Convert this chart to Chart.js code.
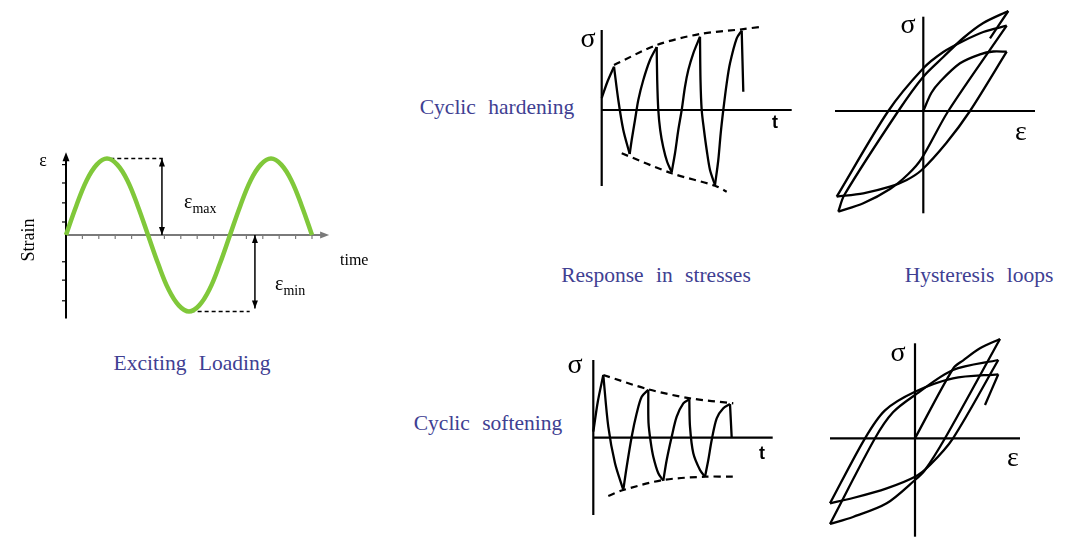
<!DOCTYPE html>
<html><head><meta charset="utf-8">
<script src="https://cdn.jsdelivr.net/npm/chart.js@4.4.1/dist/chart.umd.min.js"></script>
<style>
html,body{margin:0;padding:0;background:#fff;}
body{width:1080px;height:541px;position:relative;overflow:hidden;font-family:"Liberation Serif","Times New Roman",serif;}
.pn{position:absolute;}
.t{position:absolute;white-space:pre;line-height:1;color:#000;}
.lbl{color:rgb(64,64,146);font-size:21.5px;word-spacing:7px;transform:translate(-50%,-50%);}
.c{transform:translate(-50%,-50%);}
</style></head><body>
<script>
// ---------- DATA ----------
// Exciting loading: time in cycles, strain in amplitude units
const loadTime   = [0,0.0625,0.125,0.1875,0.25,0.3125,0.375,0.4375,0.5,0.5625,0.625,0.6875,0.75,0.8125,0.875,0.9375,1,1.0625,1.125,1.1875,1.25,1.3125,1.375,1.4375,1.5];
const loadStrain = [0,0.38,0.71,0.92,1,0.92,0.71,0.38,0,-0.38,-0.71,-0.92,-1,-0.92,-0.71,-0.38,0,0.38,0.71,0.92,1,0.92,0.71,0.38,0];
const loadTimeTicks   = [0.1,0.2,0.3,0.4,0.5,0.6,0.7,0.8,0.9,1.0,1.1,1.2,1.3,1.4,1.5];
const loadStrainTicks = [0.92,0.68,0.42,0.17,-0.35,-0.59,-0.86];
const maxGuide = [[0.27,1.0],[0.59,1.0]];
const minGuide = [[0.76,-1.0],[1.12,-1.0]];
const maxArrow = {t:0.585, from:1.0, to:0};
const minArrow = {t:1.152, from:0, to:-0.96};

// Cyclic hardening – stress response (t, sigma in arbitrary units)
const hardResp = [
  [[0,1.2],[0.6,2.9],[1.23,4.33]],
  [[1.23,4.33],[1.66,1.0],[2.16,-2.0],[2.8,-4.4]],
  [[2.8,-4.4],[3.0,-3.0],[3.33,-1.0],[3.66,1.0],[4.16,3.0],[4.83,5.0],[5.5,6.3]],
  [[5.5,6.3],[5.55,3.0],[5.66,0],[5.85,-2.0],[6.15,-3.7],[6.55,-5.2],[7.0,-6.2]],
  [[7.0,-6.2],[7.33,-4.33],[7.66,-2.0],[8.0,0],[8.33,2.33],[8.66,4.0],[9.16,5.67],[9.83,7.33]],
  [[9.83,7.33],[9.88,3.0],[10.0,0],[10.23,-2.0],[10.5,-4.0],[10.83,-6.0],[11.33,-7.5]],
  [[11.33,-7.5],[11.66,-5.0],[11.9,-2.33],[12.16,0],[12.5,2.67],[12.83,4.67],[13.5,7.17],[14.0,7.93]],
  [[14.0,7.93],[14.16,1.83]]
];
const hardUpperEnv = [[1.23,4.5],[5.5,6.5],[9.83,7.6],[14.0,8.07],[16.0,8.33]];
const hardLowerEnv = [[2.0,-4.33],[7.0,-6.33],[11.33,-7.57],[12.5,-8.17]];

// Cyclic hardening – hysteresis loops (epsilon, sigma)
const hardLoops = [
  [[0,0],[0.8,1.8],[1.67,2.93],[3.67,4.77],[5.67,5.67],[7.0,5.95],[8.34,5.93]],
  [[8.34,5.93],[4.67,0],[2.3,-3.2],[-0.16,-5.9],[-1.66,-6.9],[-3.33,-7.57],[-6.0,-8.23],[-8.66,-8.57]],
  [[-8.66,-8.57],[-3.5,0],[0,4.27],[2.0,5.9],[4.0,7.0],[6.0,7.9],[8.34,8.53]],
  [[8.34,8.53],[2.5,0],[-0.16,-4.73],[-1.5,-6.3],[-3.33,-7.8],[-6.0,-9.23],[-8.5,-10.07]],
  [[-8.5,-10.07],[-7.9,-8.4],[-2.5,0],[0,3.43],[2.0,5.4],[4.0,7.3],[6.0,8.8],[8.5,10.0]],
  [[8.5,10.0],[6.67,7.27]]
];

// Cyclic softening – stress response
const softResp = [
  [[0,0.6],[0.45,3.6],[1.0,6.27]],
  [[1.0,6.27],[1.5,1.1],[2.17,-2.56],[3.0,-5.23]],
  [[3.0,-5.23],[3.34,-2.9],[3.84,0.1],[4.34,2.44],[4.84,4.1],[5.5,4.8]],
  [[5.5,4.8],[5.52,1.5],[5.75,-0.5],[6.0,-1.9],[6.5,-3.56],[7.0,-4.3]],
  [[7.0,-4.3],[7.34,-2.23],[7.84,0.1],[8.34,2.1],[9.0,3.44],[9.6,3.84]],
  [[9.6,3.84],[9.67,1.1],[10.0,-1.56],[10.67,-3.23],[11.17,-3.9]],
  [[11.17,-3.9],[11.5,-2.23],[11.84,-0.23],[12.34,1.94],[13.0,2.94],[13.67,3.37]],
  [[13.67,3.37],[13.84,0]]
];
const softUpperEnv = [[1.0,6.27],[5.5,4.84],[9.67,3.94],[14.0,3.44]];
const softLowerEnv = [[1.5,-5.83],[3.0,-5.23],[7.0,-4.23],[11.17,-3.9],[14.0,-3.9]];

// Cyclic softening – hysteresis loops
const softLoops = [
  [[0,0],[3.83,7.0],[4.83,7.8],[6.5,9.0],[8.5,9.93]],
  [[8.5,9.93],[3.0,0],[1.0,-3.17],[0,-4.17],[-2.83,-6.5],[-6.2,-7.87],[-8.5,-8.57]],
  [[-8.5,-8.57],[-4.0,0],[-2.2,2.6],[0,4.33],[3.8,6.83],[8.33,7.83]],
  [[8.33,7.83],[3.8,0],[1.5,-2.67],[0,-3.84],[-2.83,-5.0],[-6.2,-5.97],[-8.5,-6.5]],
  [[-8.5,-6.5],[-5.0,0],[-3.0,2.8],[0,4.66],[3.8,6.0],[8.33,6.4]],
  [[8.33,6.4],[7.0,3.33]]
];

// ---------- helpers ----------
function head(ctx,x,y,ang,color,len,w){
  len=len||9; w=w||3.5;
  ctx.save(); ctx.translate(x,y); ctx.rotate(ang); ctx.fillStyle=color;
  ctx.beginPath(); ctx.moveTo(0,0); ctx.lineTo(-len,-w); ctx.lineTo(-len,w); ctx.closePath(); ctx.fill();
  ctx.restore();
}
function axesPlugin(a){
  return {
    id:'axesDraw',
    beforeDatasetsDraw(ch){
      const ctx=ch.ctx, X=v=>ch.scales.x.getPixelForValue(v), Y=v=>ch.scales.y.getPixelForValue(v);
      ctx.save(); ctx.lineCap='butt';
      ctx.lineWidth=a.lw||2;
      ctx.strokeStyle=a.xColor||'#000';
      ctx.beginPath(); ctx.moveTo(X(a.x[0]),Y(0)); ctx.lineTo(X(a.x[1]),Y(0)); ctx.stroke();
      if(a.arrowX) head(ctx,X(a.x[1])+4,Y(0),0,a.xColor||'#000');
      if(a.xTicks){ ctx.lineWidth=1.2; a.xTicks.forEach(v=>{ctx.beginPath();ctx.moveTo(X(v),Y(0)-1);ctx.lineTo(X(v),Y(0)+4);ctx.stroke();}); }
      ctx.lineWidth=a.lw||2;
      ctx.strokeStyle=a.yColor||'#000';
      ctx.beginPath(); ctx.moveTo(X(0),Y(a.y[0])); ctx.lineTo(X(0),Y(a.y[1])); ctx.stroke();
      if(a.arrowY) head(ctx,X(0),Y(a.y[1])-4,-Math.PI/2,a.yColor||'#000');
      if(a.yTicks){ ctx.lineWidth=1.2; a.yTicks.forEach(v=>{ctx.beginPath();ctx.moveTo(X(0),Y(v));ctx.lineTo(X(0)-4,Y(v));ctx.stroke();}); }
      ctx.restore();
    },
    afterDatasetsDraw(ch){
      if(!a.dims) return;
      const ctx=ch.ctx, X=v=>ch.scales.x.getPixelForValue(v), Y=v=>ch.scales.y.getPixelForValue(v);
      ctx.save(); ctx.strokeStyle='#000'; ctx.lineWidth=1.5;
      a.dims.forEach(d=>{
        const x=X(d.t), y1=Y(d.from), y2=Y(d.to);
        ctx.beginPath(); ctx.moveTo(x,y1); ctx.lineTo(x,y2); ctx.stroke();
        const up=-Math.PI/2, dn=Math.PI/2;
        head(ctx,x,y1,y1<y2?up:dn,'#000',8,3);
        head(ctx,x,y2,y2<y1?up:dn,'#000',8,3);
      });
      ctx.restore();
    }
  };
}
function ds(arr,opts){
  return Object.assign({data:arr.map(p=>({x:p[0],y:p[1]})),showLine:true,pointRadius:0,pointHoverRadius:0,
    borderColor:'#000',borderWidth:2.3,tension:0.3,clip:false,fill:false},opts||{});
}
function panel(cfg){
  const [L,T,W,H]=cfg.rect, [ox,oy]=cfg.origin, [ux,uy]=cfg.unit;
  const c=document.createElement('canvas');
  c.width=W; c.height=H; c.className='pn'; c.style.left=L+'px'; c.style.top=T+'px';
  document.body.appendChild(c);
  new Chart(c,{type:'scatter',data:{datasets:cfg.datasets},options:{
    responsive:false,animation:false,devicePixelRatio:1,layout:{padding:0},
    plugins:{legend:{display:false},tooltip:{enabled:false}},
    scales:{x:{type:'linear',display:false,min:(L-ox)/ux,max:(L+W-ox)/ux},
            y:{type:'linear',display:false,min:(oy-T-H)/uy,max:(oy-T)/uy}}
  },plugins:[axesPlugin(cfg.axes)]});
}
const dash={borderDash:[7,5],tension:0.3,borderWidth:2.2};

// Panel 1: exciting loading
panel({rect:[30,140,350,190],origin:[66,235],unit:[164,76.5],
  axes:{x:[0,1.58],y:[-1.09,1.03],xColor:'#7a7a7a',yColor:'#000',lw:2,arrowX:true,arrowY:true,
        xTicks:loadTimeTicks,yTicks:loadStrainTicks,dims:[maxArrow,minArrow]},
  datasets:[
    ds(loadTime.map((t,i)=>[t,loadStrain[i]]),{borderColor:'#80c83a',borderWidth:4.5,tension:0.4}),
    ds(maxGuide,{borderDash:[4,3],borderWidth:1.5,tension:0}),
    ds(minGuide,{borderDash:[4,3],borderWidth:1.5,tension:0})
  ]});
// Panel 2: hardening response
panel({rect:[590,15,210,180],origin:[601.7,110],unit:[10,10],
  axes:{x:[0,19.0],y:[-7.6,8.0],lw:2.2},
  datasets:[...hardResp.map(b=>ds(b)),ds(hardUpperEnv,dash),ds(hardLowerEnv,dash)]});
// Panel 3: hardening loops
panel({rect:[828,2,212,216],origin:[923.3,111],unit:[10,10],
  axes:{x:[-8.83,11.17],y:[-10.23,9.43],lw:2.2},
  datasets:hardLoops.map(b=>ds(b))});
// Panel 4: softening response
panel({rect:[585,355,195,165],origin:[593.3,437.7],unit:[10,10],
  axes:{x:[0,17.94],y:[-7.73,7.77],lw:2.2},
  datasets:[...softResp.map(b=>ds(b)),ds(softUpperEnv,dash),ds(softLowerEnv,dash)]});
// Panel 5: softening loops
panel({rect:[822,330,205,211],origin:[915,438.3],unit:[10,10],
  axes:{x:[-8.5,10.5],y:[-9.84,9.5],lw:2.2},
  datasets:softLoops.map(b=>ds(b))});

// ---------- TEXT ----------
function txt(html,x,y,cls,style){
  const d=document.createElement('div'); d.className='t '+(cls||''); d.innerHTML=html;
  d.style.left=x+'px'; d.style.top=y+'px'; if(style) d.style.cssText+=style; document.body.appendChild(d);
}
txt('ε',43,160,'c','font-size:18px;');
txt('Strain',28,240,'c','font-size:18px;transform:translate(-50%,-50%) rotate(-90deg);');
txt('ε<span style="font-size:14px;position:relative;top:5px;">max</span>',184,191,'','font-size:20px;');
txt('time',340,252,'','font-size:16px;');
txt('ε<span style="font-size:14px;position:relative;top:5px;">min</span>',275,273,'','font-size:20px;');
txt('Exciting Loading',192,364,'lbl');
txt('Cyclic hardening',497,108,'lbl');
txt('Response in stresses',656,276,'lbl');
txt('Hysteresis loops',979,276,'lbl');
txt('Cyclic softening',488,424,'lbl');
txt('σ',588,38,'c','font-size:28px;');
txt('σ',908,24,'c','font-size:28px;');
txt('σ',575,364,'c','font-size:28px;');
txt('σ',898,352,'c','font-size:28px;');
txt('t',775,122,'c','font-size:18px;font-weight:bold;font-family:"Liberation Sans",Arial,sans-serif;');
txt('t',762,453,'c','font-size:18px;font-weight:bold;font-family:"Liberation Sans",Arial,sans-serif;');
txt('ε',1021,131,'c','font-size:28px;');
txt('ε',1013,457,'c','font-size:28px;');
</script>
</body></html>
